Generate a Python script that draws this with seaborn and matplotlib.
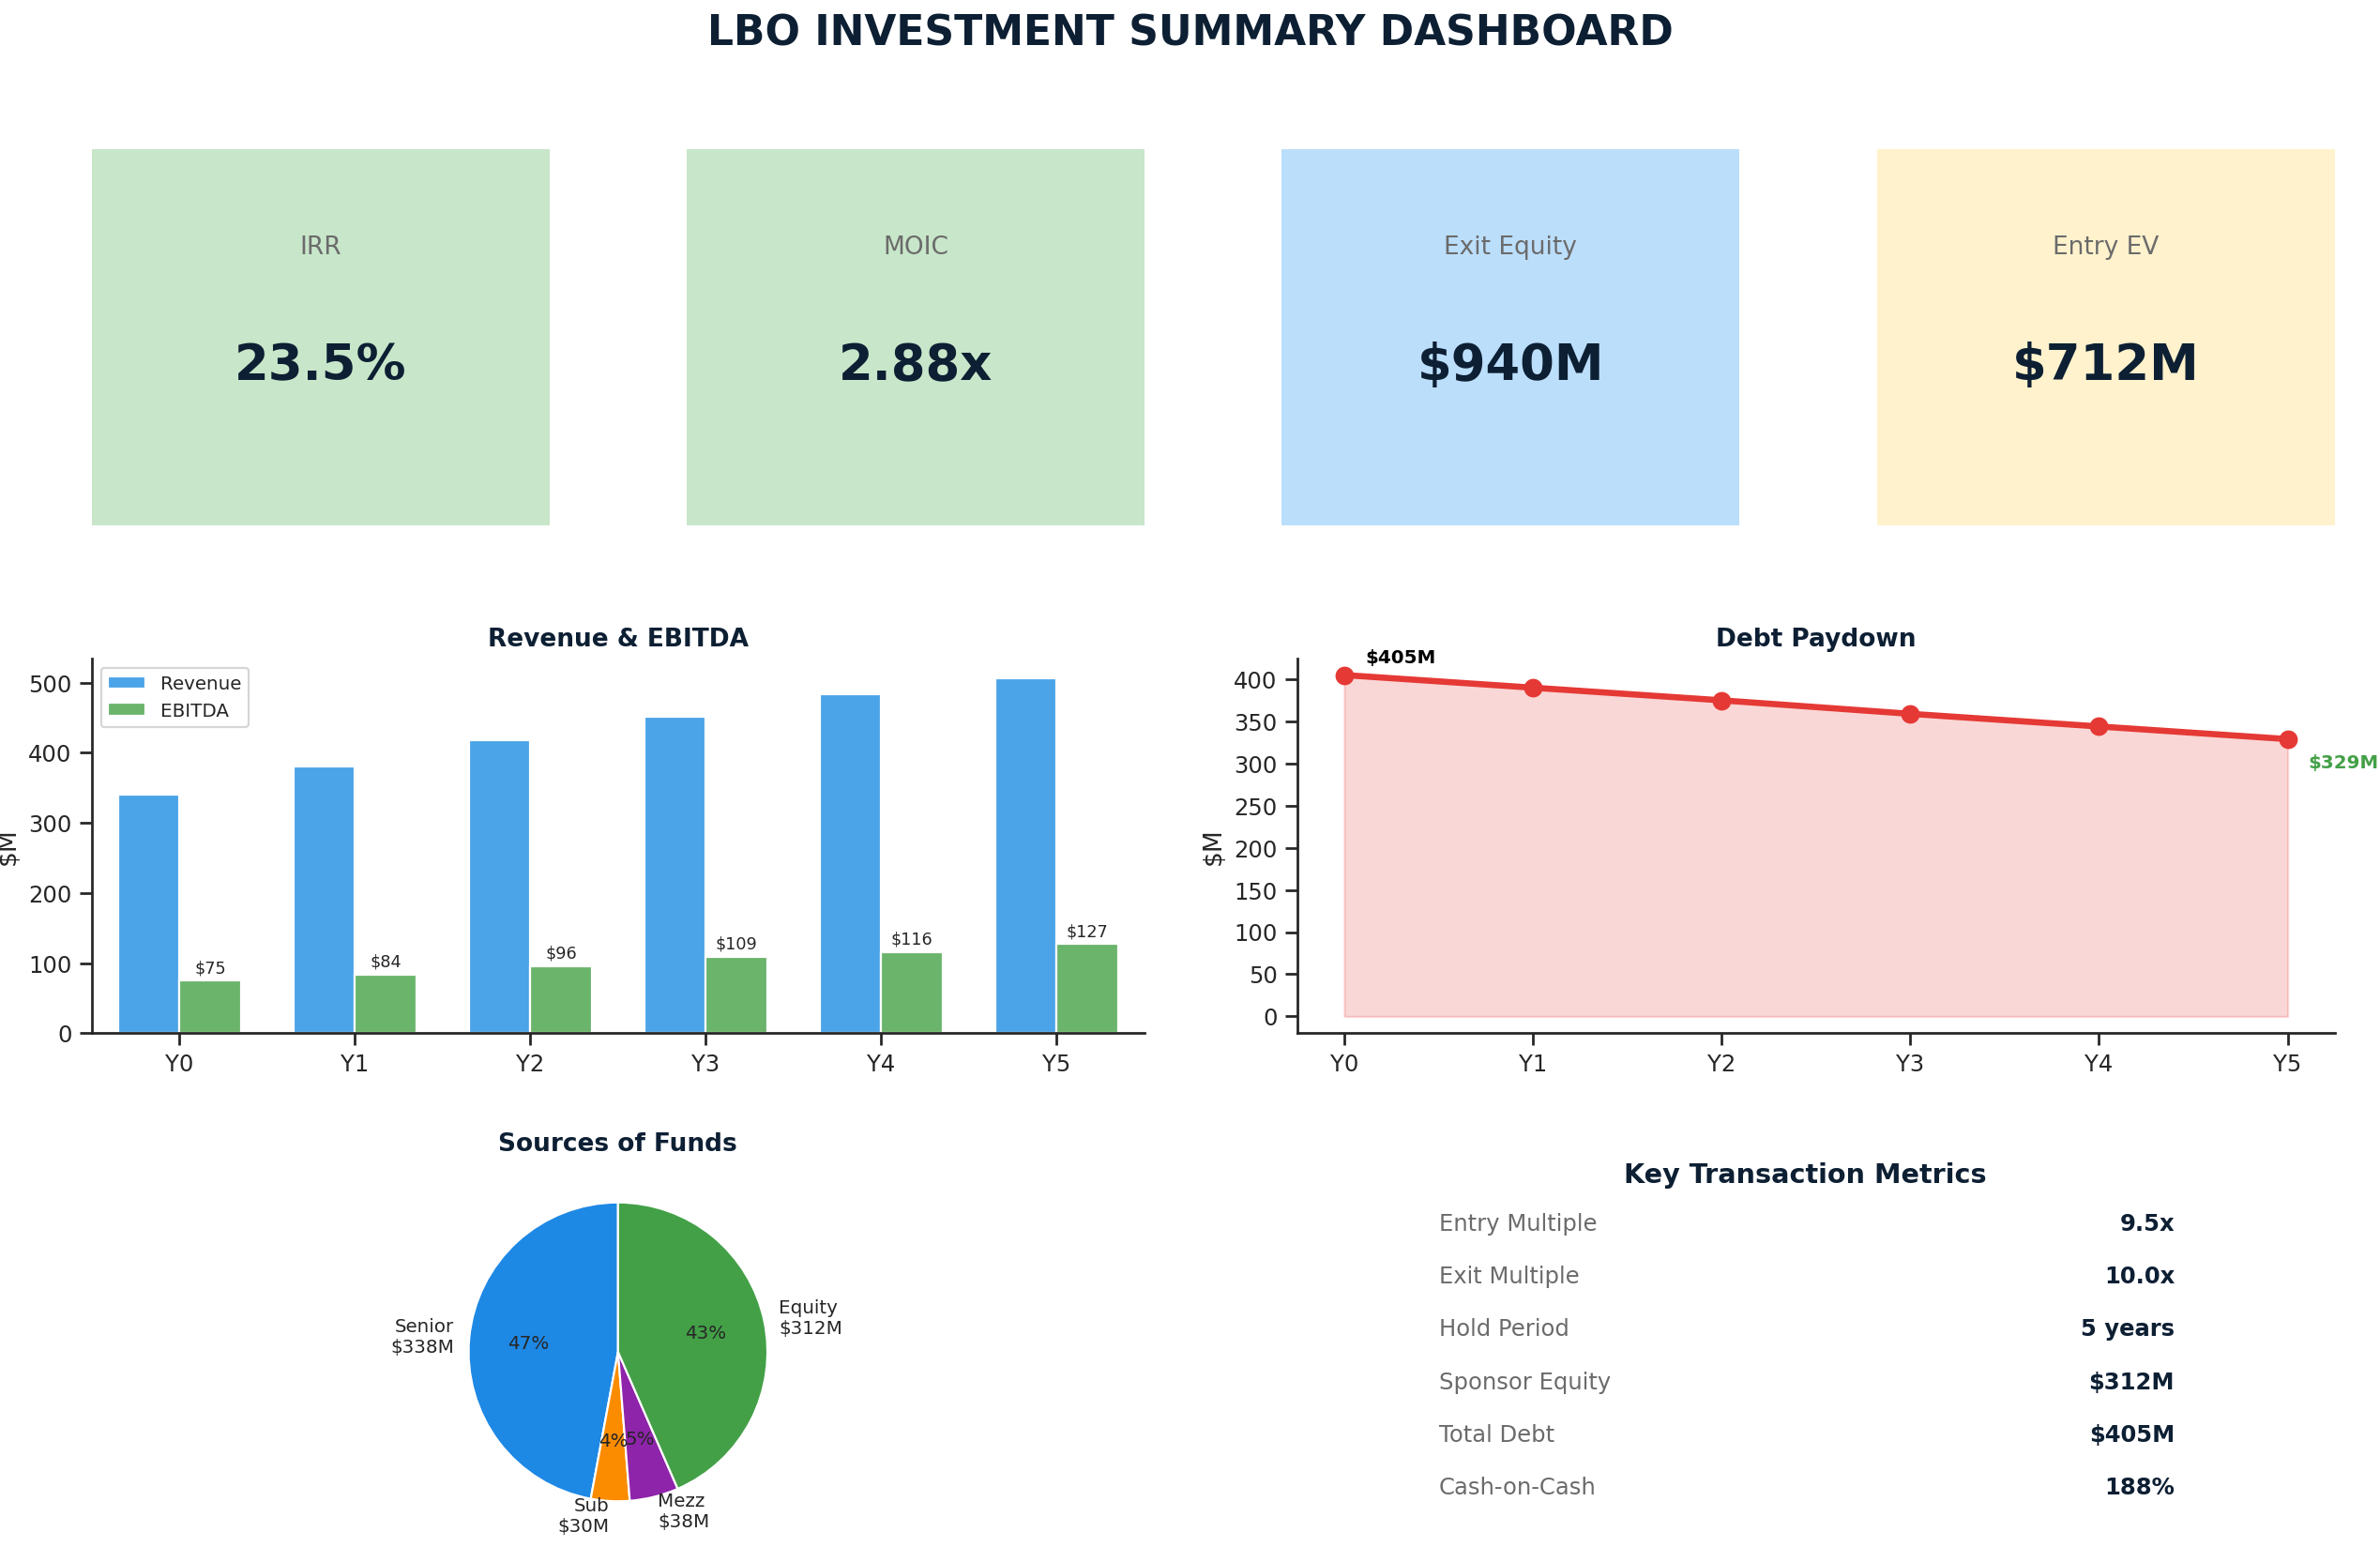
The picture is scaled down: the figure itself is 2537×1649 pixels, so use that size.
import pandas as pd
import matplotlib
matplotlib.use("Agg")
import matplotlib.pyplot as plt
import seaborn as sns

# ================== data ==================
years = ["Y0", "Y1", "Y2", "Y3", "Y4", "Y5"]
revenue = [340, 380, 418, 452, 483, 507]
ebitda = [75, 84, 96, 109, 116, 127]
debt = [405, 390, 375, 359, 344, 329]

kpi_labels = ["IRR", "MOIC", "Exit Equity", "Entry EV"]
kpi_values = ["23.5%", "2.88x", "$940M", "$712M"]
kpi_colors = ["#C8E6C9", "#C8E6C9", "#BBDEFB", "#FFF2CC"]

src_names = ["Senior", "Sub", "Mezz", "Equity"]
src_values = [338, 30, 38, 312]
src_colors = ["#1E88E5", "#FB8C00", "#8E24AA", "#43A047"]

metric_names = ["Entry Multiple", "Exit Multiple", "Hold Period", "Sponsor Equity", "Total Debt", "Cash-on-Cash"]
metric_values = ["9.5x", "10.0x", "5 years", "$312M", "$405M", "188%"]
# ==========================================

DARK = "#0D1F33"
GRAY = "#6B6B6B"
W, H = 1560, 1015

sns.set_theme(style="ticks")
plt.rcParams["font.family"] = ["DejaVu Sans"]

fig = plt.figure(figsize=(16, 10.4), dpi=158.6)
fig.text(0.5, 0.978, "LBO INVESTMENT SUMMARY DASHBOARD", ha="center", va="center",
         fontsize=20, fontweight="bold", color=DARK)

# KPI cards
for i, (lab, val, col) in enumerate(zip(kpi_labels, kpi_values, kpi_colors)):
    x0 = (60 + 390 * i) / W
    ax = fig.add_axes([x0, 1 - 345 / H, 300 / W, 247 / H])
    ax.set_facecolor(col)
    ax.set_xticks([]); ax.set_yticks([])
    for s in ax.spines.values():
        s.set_visible(False)
    ax.text(0.5, 0.74, lab, ha="center", va="center", fontsize=12, color=GRAY, transform=ax.transAxes)
    ax.text(0.5, 0.425, val, ha="center", va="center", fontsize=24, fontweight="bold", color=DARK,
            transform=ax.transAxes)

# Revenue & EBITDA
ax1 = fig.add_axes([60 / W, 1 - 678 / H, 690 / W, 246 / H])
df = pd.DataFrame({"Year": years * 2, "Value": revenue + ebitda,
                   "Metric": ["Revenue"] * 6 + ["EBITDA"] * 6})
sns.barplot(data=df, x="Year", y="Value", hue="Metric", palette=["#4BA3E8", "#6AB46C"],
            width=0.7, saturation=1, ax=ax1)
ax1.bar_label(ax1.containers[1], labels=[f"${v}" for v in ebitda], fontsize=8, padding=2)
ax1.set_title("Revenue & EBITDA", fontsize=12, fontweight="bold", color=DARK)
ax1.set_xlabel(""); ax1.set_ylabel("$M")
ax1.set_ylim(0, 535)
ax1.legend(loc="upper left", fontsize=9)
sns.despine(ax=ax1)

# Debt Paydown
ax2 = fig.add_axes([850 / W, 1 - 678 / H, 680 / W, 246 / H])
ddf = pd.DataFrame({"Year": years, "Debt": debt})
ax2.fill_between(range(6), debt, color="#E53935", alpha=0.2)
sns.lineplot(data=ddf, x="Year", y="Debt", color="#E53935", linewidth=3, marker="o",
             markersize=9, markeredgewidth=0, ax=ax2)
ax2.annotate(f"${debt[0]}M", (0, debt[0]), xytext=(10, 6), textcoords="offset points",
             fontsize=9, fontweight="bold", color="black")
ax2.annotate(f"${debt[-1]}M", (5, debt[-1]), xytext=(10, -14), textcoords="offset points",
             fontsize=9, fontweight="bold", color="#43A047")
ax2.set_title("Debt Paydown", fontsize=12, fontweight="bold", color=DARK)
ax2.set_xlabel(""); ax2.set_ylabel("$M")
ax2.set_ylim(-20, 425)
ax2.set_yticks(range(0, 401, 50))
ax2.set_xlim(-0.25, 5.25)
sns.despine(ax=ax2)

# Sources of Funds
ax3 = fig.add_axes([(405 - 98) / W, 1 - (887 + 98) / H, 196 / W, 196 / H])
ax3.pie(src_values, labels=[f"{n}\n${v}M" for n, v in zip(src_names, src_values)],
        colors=src_colors, autopct="%1.0f%%", startangle=90, counterclock=True,
        textprops={"fontsize": 9}, labeldistance=1.1, pctdistance=0.6)
ax3.set_xlim(-1, 1); ax3.set_ylim(-1, 1)
fig.text(405 / W, 1 - 751 / H, "Sources of Funds", ha="center", va="center",
         fontsize=12, fontweight="bold", color=DARK)

# Key Transaction Metrics
fig.text(1183 / W, 1 - 771 / H, "Key Transaction Metrics", ha="center", va="center",
         fontsize=13, fontweight="bold", color=DARK)
for i, (n, v) in enumerate(zip(metric_names, metric_values)):
    y = 1 - (803 + 34.6 * i) / H
    fig.text(943 / W, y, n, ha="left", va="center", fontsize=11, color=GRAY)
    fig.text(1425 / W, y, v, ha="right", va="center", fontsize=11, fontweight="bold", color=DARK)

fig.savefig("out.png", dpi=158.6)
